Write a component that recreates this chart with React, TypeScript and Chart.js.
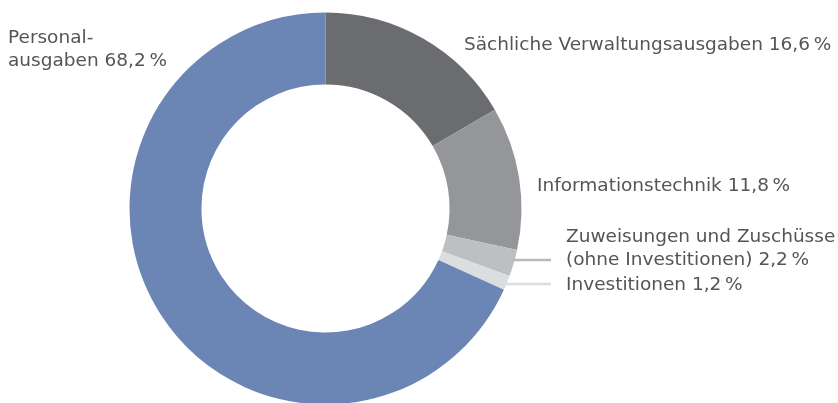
import React, { useEffect, useRef } from "react";
import { Chart, registerables } from "chart.js";

Chart.register(...registerables);

const categories = [
  "Sächliche Verwaltungsausgaben",
  "Informationstechnik",
  "Zuweisungen und Zuschüsse (ohne Investitionen)",
  "Investitionen",
  "Personalausgaben",
];
const values = [16.6, 11.8, 2.2, 1.2, 68.2];
const colors = ["#6b6c70", "#95969a", "#bebfc2", "#dcdddf", "#6b86b5"];
const labelLines = [
  ["Sächliche Verwaltungsausgaben 16,6\u202F%"],
  ["Informationstechnik 11,8\u202F%"],
  ["Zuweisungen und Zuschüsse", "(ohne Investitionen) 2,2\u202F%"],
  ["Investitionen 1,2\u202F%"],
  ["Personal-", "ausgaben 68,2\u202F%"],
];

const labelPlugin = {
  id: "sliceLabels",
  afterDraw(chart: any) {
    const ctx = chart.ctx;
    const meta = chart.getDatasetMeta(0);
    ctx.save();
    ctx.font = "18.5px 'DejaVu Sans'";
    ctx.fillStyle = "#555555";
    ctx.textBaseline = "middle";
    ctx.textAlign = "left";
    const pos: [number, number][] = [
      [464, 45],
      [537, 186],
      [566, 237],
      [566, 285],
      [8, 38],
    ];
    const lh = 23;
    labelLines.forEach((lines, i) => {
      const [x, y] = pos[i];
      lines.forEach((t, j) => ctx.fillText(t, x, y + j * lh));
    });
    const leader = (idx: number, y: number, color: string) => {
      const arc = meta.data[idx];
      const mid = (arc.startAngle + arc.endAngle) / 2;
      const x0 = arc.x + Math.cos(mid) * arc.outerRadius;
      ctx.strokeStyle = color;
      ctx.lineWidth = 2.5;
      ctx.beginPath();
      ctx.moveTo(x0 - 2, y);
      ctx.lineTo(551, y);
      ctx.stroke();
    };
    leader(2, 260, "#b8b9bc");
    leader(3, 284, "#dcdddf");
    ctx.restore();
  },
};

export default function App() {
  const ref = useRef<HTMLCanvasElement>(null);
  useEffect(() => {
    const c = new Chart(ref.current!, {
      type: "doughnut",
      data: {
        labels: categories,
        datasets: [
          {
            data: values,
            backgroundColor: colors,
            borderWidth: 0,
          },
        ],
      },
      options: {
        animation: false,
        responsive: false,
        cutout: "63.3%",
        layout: { padding: { left: 129.5, right: 316.5, top: 12.5, bottom: 15.5 } },
        plugins: { legend: { display: false }, tooltip: { enabled: false } },
      },
      plugins: [labelPlugin],
    });
    return () => c.destroy();
  }, []);
  return (
    <div style={{ position: "fixed", left: 0, top: 0, width: 838, height: 420 }}>
      <canvas ref={ref} width={838} height={420} style={{ width: 838, height: 420 }} />
    </div>
  );
}
